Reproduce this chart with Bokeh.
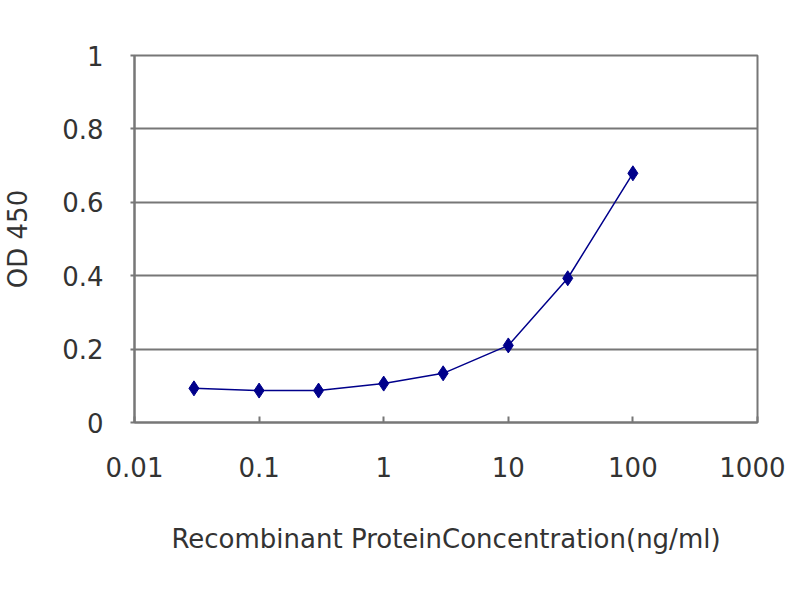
from bokeh.plotting import figure
from bokeh.models import Range1d, FixedTicker
from bokeh.embed import file_html
from bokeh.resources import INLINE

# Data
concentration = [0.03, 0.1, 0.3, 1, 3, 10, 30, 100]
od450 = [0.093, 0.087, 0.087, 0.106, 0.134, 0.210, 0.393, 0.679]
x_ticks = [0.01, 0.1, 1, 10, 100, 1000]
x_tick_labels = ["0.01", "0.1", "1", "10", "100", "1000"]
y_ticks = [0, 0.2, 0.4, 0.6, 0.8, 1]
y_tick_labels = ["0", "0.2", "0.4", "0.6", "0.8", "1"]

FONT = "DejaVu Sans"
GRAY = "#777777"
TXT = "#333333"
NAVY = "#00008b"

p = figure(width=784, height=584, x_axis_type="log",
           x_range=Range1d(0.01, 1000), y_range=Range1d(0, 1),
           output_backend="svg", toolbar_location=None,
           min_border_left=133, min_border_right=28,
           min_border_top=55, min_border_bottom=162)
p.frame_width = 623
p.frame_height = 367

p.outline_line_color = GRAY
p.outline_line_width = 2
p.background_fill_color = "white"
p.border_fill_color = "white"

p.xgrid.visible = False
p.ygrid.grid_line_color = GRAY
p.ygrid.grid_line_width = 2
p.ygrid.ticker = FixedTicker(ticks=y_ticks)

p.xaxis.ticker = FixedTicker(ticks=x_ticks)
p.xaxis.major_label_overrides = {t: s for t, s in zip(x_ticks, x_tick_labels)}
p.yaxis.ticker = FixedTicker(ticks=y_ticks)
p.yaxis.major_label_overrides = {t: s for t, s in zip(y_ticks, y_tick_labels)}

for ax in (p.xaxis[0], p.yaxis[0]):
    ax.axis_line_color = GRAY
    ax.axis_line_width = 2
    ax.major_tick_line_color = GRAY
    ax.major_tick_line_width = 2
    ax.minor_tick_line_color = None
    ax.major_label_text_font = FONT
    ax.major_label_text_font_size = "26px"
    ax.major_label_text_color = TXT
    ax.axis_label_text_font = FONT
    ax.axis_label_text_font_size = "26px"
    ax.axis_label_text_font_style = "normal"
    ax.axis_label_text_color = TXT

p.xaxis.major_tick_in = 6
p.xaxis.major_tick_out = 0
p.xaxis.major_label_standoff = 34
p.xaxis.axis_label = "Recombinant ProteinConcentration(ng/ml)"
p.xaxis.axis_label_standoff = 44

p.yaxis.major_tick_in = 0
p.yaxis.major_tick_out = 4
p.yaxis.major_label_standoff = 27
p.yaxis.axis_label = "OD 450"
p.yaxis.axis_label_standoff = 26

p.line(concentration, od450, line_color=NAVY, line_width=1.5)
p.scatter(concentration, od450, marker="diamond", size=15,
          fill_color=NAVY, line_color=NAVY)

open("out.html", "w").write(file_html(p, INLINE))
